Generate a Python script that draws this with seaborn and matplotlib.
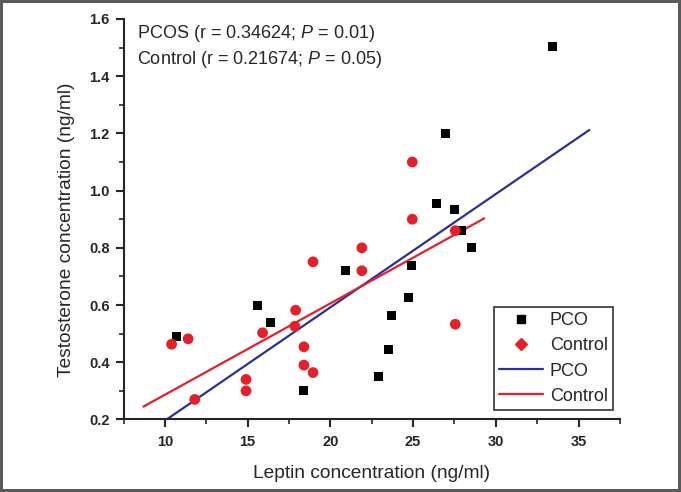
import matplotlib
matplotlib.use("Agg")
import matplotlib.pyplot as plt
from matplotlib.lines import Line2D
from matplotlib.ticker import MultipleLocator
import seaborn as sns
import pandas as pd

# ---- data ----
pco_leptin = [10.7, 15.6, 16.4, 18.4, 20.9, 22.9, 23.5, 23.7, 24.7, 24.9,
              26.95, 26.4, 27.5, 27.95, 28.5, 33.45]
pco_testo = [0.49, 0.60, 0.54, 0.30, 0.72, 0.35, 0.445, 0.565, 0.625, 0.74,
             1.20, 0.955, 0.935, 0.86, 0.80, 1.505]

ctrl_leptin = [10.4, 11.4, 11.8, 14.9, 14.9, 15.9, 17.9, 17.85, 18.4, 18.4,
               18.95, 18.95, 21.9, 21.9, 24.95, 24.95, 27.55, 27.55]
ctrl_testo = [0.463, 0.482, 0.27, 0.34, 0.30, 0.503, 0.582, 0.526, 0.454, 0.39,
              0.364, 0.751, 0.80, 0.72, 0.90, 1.10, 0.86, 0.533]

# fitted lines (end points)
fit_pco_x = [10.1, 35.65]
fit_pco_y = [0.20, 1.212]
fit_ctrl_x = [8.7, 29.3]
fit_ctrl_y = [0.245, 0.903]

group_names = ["PCO", "Control"]
x_ticks = [10, 15, 20, 25, 30, 35]
y_ticks = [0.2, 0.4, 0.6, 0.8, 1.0, 1.2, 1.4, 1.6]
annot_lines = [r"PCOS (r = 0.34624; $\it{P}$ = 0.01)",
               r"Control (r = 0.21674; $\it{P}$ = 0.05)"]

RED = "#e4202b"
BLUE = "#2c2f96"

sns.set_style("ticks")
plt.rcParams["font.family"] = ["Liberation Sans", "DejaVu Sans"]
plt.rcParams["mathtext.fontset"] = "custom"
plt.rcParams["mathtext.rm"] = "Liberation Sans"
plt.rcParams["mathtext.it"] = "Liberation Sans:italic"

pts = pd.DataFrame({
    "leptin": pco_leptin + ctrl_leptin,
    "testo": pco_testo + ctrl_testo,
    "group": [group_names[0]] * len(pco_leptin) + [group_names[1]] * len(ctrl_leptin),
})
fits = pd.DataFrame({
    "leptin": fit_pco_x + fit_ctrl_x,
    "testo": fit_pco_y + fit_ctrl_y,
    "group": [group_names[0]] * 2 + [group_names[1]] * 2,
})

fig = plt.figure(figsize=(6.81, 4.92), dpi=100)
fig.patch.set_edgecolor("#5a5a5a")
fig.patch.set_linewidth(3)
ax = fig.add_axes([0.1815, 0.1474, 0.7288, 0.814])

sns.lineplot(data=fits[fits.group == "PCO"], x="leptin", y="testo", color=BLUE,
             lw=1.6, ax=ax, legend=False)
sns.lineplot(data=fits[fits.group == "Control"], x="leptin", y="testo", color=RED,
             lw=1.6, ax=ax, legend=False)
sns.scatterplot(data=pts[pts.group == "PCO"], x="leptin", y="testo", marker="s",
                color="black", s=42, edgecolor="none", ax=ax, legend=False, zorder=3)
sns.scatterplot(data=pts[pts.group == "Control"], x="leptin", y="testo", marker="o",
                color=RED, s=60, edgecolor="none", ax=ax, legend=False, zorder=3)

ax.set_xlim(7.5, 37.5)
ax.set_ylim(0.2, 1.6)
ax.set_xticks(x_ticks)
ax.set_yticks(y_ticks)
ax.set_yticklabels([f"{v:.1f}" for v in y_ticks])
ax.xaxis.set_minor_locator(MultipleLocator(2.5))
ax.yaxis.set_minor_locator(MultipleLocator(0.1))
ax.tick_params(which="major", length=6, width=1.5, direction="out", labelsize=10.5)
ax.tick_params(axis="x", which="major", pad=5)
ax.tick_params(axis="y", which="major", pad=4)
ax.tick_params(which="minor", length=3.5, width=1.2, direction="out")
for lab in ax.get_xticklabels() + ax.get_yticklabels():
    lab.set_fontweight("bold")
for s in ["left", "bottom"]:
    ax.spines[s].set_linewidth(1.5)
sns.despine(ax=ax)

ax.set_xlabel("Leptin concentration (ng/ml)", fontsize=13.8, labelpad=12)
ax.set_ylabel("Testosterone concentration (ng/ml)", fontsize=13.8)
ax.yaxis.set_label_coords(-0.098, 0.473)

ax.text(8.3, 1.548, annot_lines[0], fontsize=13, va="center", ha="left")
ax.text(8.3, 1.457, annot_lines[1], fontsize=13, va="center", ha="left")

handles = [
    Line2D([], [], marker="s", color="black", ls="none", markersize=5.5),
    Line2D([], [], marker="D", color=RED, ls="none", markersize=6.5),
    Line2D([], [], color=BLUE, lw=1.6),
    Line2D([], [], color=RED, lw=1.6),
]
leg = ax.legend(handles, ["PCO", "Control", "PCO", "Control"], loc="upper left",
                bbox_to_anchor=(0.746, 0.281), frameon=True, fancybox=False,
                edgecolor="black", fontsize=13, handlelength=2.4, handletextpad=0.4,
                borderpad=0.3, labelspacing=0.45, borderaxespad=0)
leg.get_frame().set_linewidth(1.2)

fig.savefig("out.png", dpi=100)
